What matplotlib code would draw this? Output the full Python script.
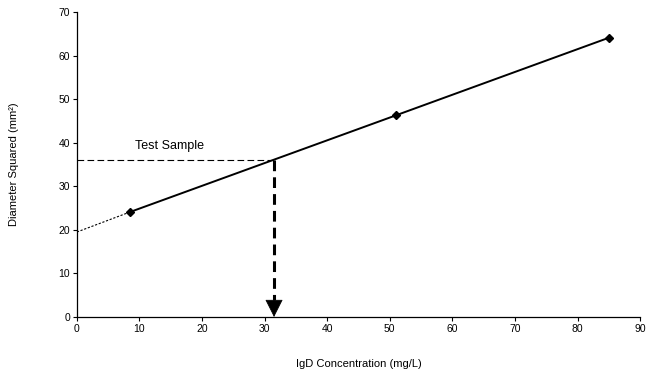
import matplotlib
matplotlib.use("Agg")
import matplotlib.pyplot as plt

plt.rcParams['font.family'] = ['Liberation Sans', 'DejaVu Sans']

# standard curve points
conc = [8.5, 51.0, 85.0]
diam_sq = [24.1, 46.3, 64.1]
# extrapolated intercept at zero
intercept_y = 19.5
# test sample reading
test_y = 36.0
test_x = 31.5

fig = plt.figure(figsize=(6.46, 3.76), dpi=100)
ax = fig.add_axes([0.119, 0.157, 0.872, 0.811])

ax.plot(conc, diam_sq, color='black', lw=1.4, marker='D', ms=4, zorder=3)
ax.plot([0, conc[0]], [intercept_y, diam_sq[0]], color='black', lw=0.8,
        linestyle=(0, (2, 1.5)))

# horizontal reading line
ax.plot([0, test_x], [test_y, test_y], color='black', lw=0.8,
        linestyle=(0, (6, 3)))
# vertical arrow down to x axis
ax.plot([test_x, test_x], [test_y, 4.0], color='black', lw=2.2,
        linestyle=(0, (3.5, 2)))
ax.annotate('', xy=(test_x, 0), xytext=(test_x, 4.5),
            arrowprops=dict(arrowstyle='-|>,head_length=1.15,head_width=0.58',
                            color='black', lw=0.5, shrinkA=0, shrinkB=0))

ax.text(9.3, 39.2, 'Test Sample', fontsize=9, va='center', ha='left')

ax.set_xlim(0, 90)
ax.set_ylim(0, 70)
ax.set_xticks(range(0, 91, 10))
ax.set_yticks(range(0, 71, 10))
ax.tick_params(labelsize=7.5, length=3, width=0.8, direction='out', pad=2)
for s in ['top', 'right']:
    ax.spines[s].set_visible(False)
for s in ['left', 'bottom']:
    ax.spines[s].set_linewidth(0.9)

ax.set_xlabel('IgD Concentration (mg/L)', fontsize=8, labelpad=18)
ax.set_ylabel('Diameter Squared (mm²)', fontsize=8, labelpad=28)

fig.savefig('out.png', dpi=100)
